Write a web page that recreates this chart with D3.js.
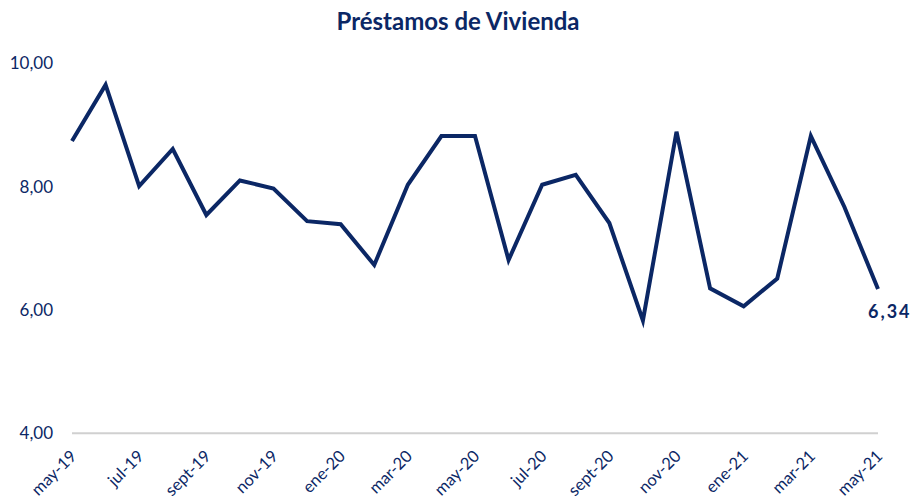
<!DOCTYPE html>
<html>
<head>
<meta charset="utf-8">
<script src="https://cdn.jsdelivr.net/npm/d3@7"></script>
<style>
  body { margin: 0; background: #fff; }
  svg { display: block; font-family: Lato, "Open Sans", sans-serif; }
</style>
</head>
<body>
<svg id="chart" width="919" height="500"></svg>
<script>
const title = "Préstamos de Vivienda";
const months = ["may-19","jun-19","jul-19","ago-19","sept-19","oct-19","nov-19","dic-19",
  "ene-20","feb-20","mar-20","abr-20","may-20","jun-20","jul-20","ago-20","sept-20","oct-20",
  "nov-20","dic-20","ene-21","feb-21","mar-21","abr-21","may-21"];
const values = [8.74,9.65,8.01,8.61,7.54,8.10,7.97,7.44,7.39,6.73,8.03,8.82,8.82,6.81,8.03,8.19,7.41,5.83,8.89,6.35,6.06,6.51,8.82,7.67,6.34];
const tickLabels = ["may-19","jul-19","sept-19","nov-19","ene-20","mar-20","may-20","jul-20","sept-20","nov-20","ene-21","mar-21","may-21"];
const yTicks = [4,6,8,10];
const lastLabel = "6,34";

const color = "#0b2765";
const svg = d3.select("#chart");
const x = d3.scalePoint().domain(months).range([72, 878]);
const y = d3.scaleLinear().domain([4, 10]).range([433.3, 63.3]);

svg.append("text").attr("x", 458).attr("y", 30).attr("text-anchor", "middle")
  .attr("font-size", 24).attr("font-weight", 700).attr("fill", color).text(title);

// y axis labels
const yAxis = d3.axisLeft(y).tickValues(yTicks).tickSize(0).tickPadding(0)
  .tickFormat(d => d3.format(".2f")(d).replace(".", ","));
const ya = svg.append("g").attr("transform", "translate(53,0)").call(yAxis);
ya.select(".domain").remove();
ya.selectAll("text").attr("font-size", 17).attr("fill", color).attr("font-family", "Lato, sans-serif");

// x axis
const xAxis = d3.axisBottom(x).tickValues(tickLabels).tickSize(0).tickPadding(0);
const xa = svg.append("g").attr("transform", `translate(0,${y(4)})`).call(xAxis);
xa.select(".domain").remove();
xa.append("line").attr("x1", x(months[0])).attr("x2", x(months[months.length-1]))
  .attr("y1", 0).attr("y2", 0).attr("stroke", "#d0d0d0").attr("stroke-width", 2);
xa.selectAll("text")
  .attr("font-size", 16.5).attr("fill", color).attr("font-family", "Lato, sans-serif")
  .attr("text-anchor", "end").attr("dy", null).attr("y", 0)
  .attr("transform", "translate(5,24) rotate(-45)");

// line
const line = d3.line().x((d, i) => x(months[i])).y(d => y(d));
svg.append("path").datum(values).attr("d", line).attr("fill", "none")
  .attr("stroke", color).attr("stroke-width", 4).attr("stroke-linejoin", "miter");

svg.append("text").attr("x", 868).attr("y", 318).attr("font-size", 18).attr("font-weight", 700)
  .attr("letter-spacing", 2).attr("fill", color).text(lastLabel);
</script>
</body>
</html>
